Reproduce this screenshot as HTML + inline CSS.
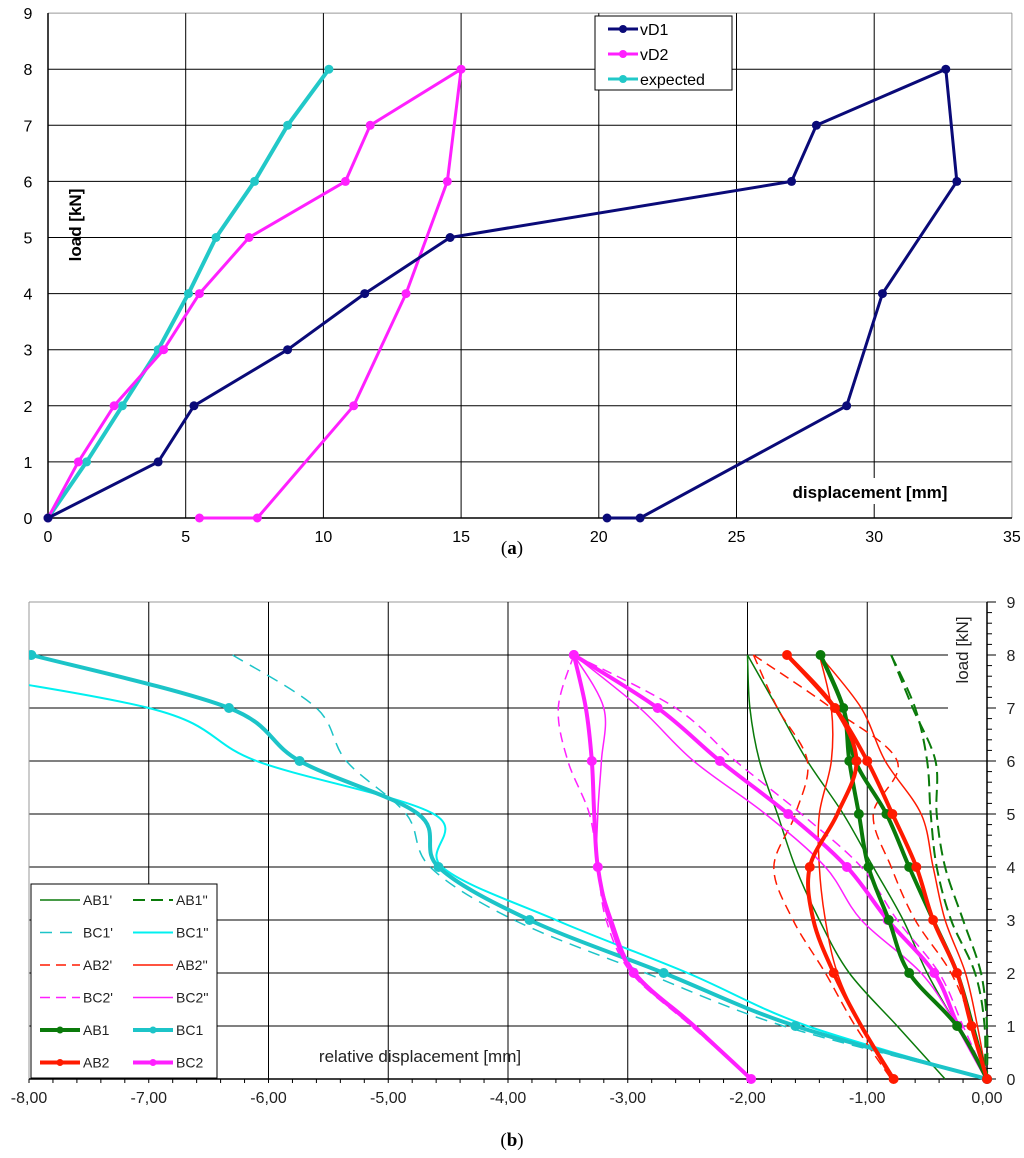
<!DOCTYPE html>
<html><head><meta charset="utf-8"><style>
html,body{margin:0;padding:0;background:#fff;}
svg{display:block;font-family:"Liberation Sans",Arial,sans-serif;}
</style></head><body>
<svg id="s" width="1024" height="1158" viewBox="0 0 1024 1158" xmlns="http://www.w3.org/2000/svg">
<g id="top"></g>
<g id="bot"></g>
<text x="512" y="554" text-anchor="middle" font-family="Liberation Serif" font-size="19">(<tspan font-weight="bold">a</tspan>)</text>
<text x="512" y="1146" text-anchor="middle" font-family="Liberation Serif" font-size="19">(<tspan font-weight="bold">b</tspan>)</text>
</svg>
<script>
// ---- chart a data ----
const aXTicks=[0,5,10,15,20,25,30,35];
const aYTicks=[0,1,2,3,4,5,6,7,8,9];
const vD1X=[0,4,5.3,8.7,11.5,14.6,27,27.9,32.6,33,30.3,29,21.5,20.3];
const vD1Y=[0,1,2,3,4,5,6,7,8,6,4,2,0,0];
const vD2X=[0,1.1,2.4,4.2,5.5,7.3,10.8,11.7,15,14.5,13,11.1,7.6,5.5];
const vD2Y=[0,1,2,3,4,5,6,7,8,6,4,2,0,0];
const expX=[0,1.4,2.7,4,5.1,6.1,7.5,8.7,10.2];
const expY=[0,1,2,3,4,5,6,7,8];
// ---- chart b data ----
const bXTicks=[-8,-7,-6,-5,-4,-3,-2,-1,0];
const bXLabels=["-8,00","-7,00","-6,00","-5,00","-4,00","-3,00","-2,00","-1,00","0,00"];
const bYTicks=[0,1,2,3,4,5,6,7,8,9];
const loads=[8,7,6,5,4,3,2,1,0];
const BC1=[-7.98,-6.33,-5.74,-4.75,-4.58,-3.82,-2.7,-1.6,0];
const BC1b=[-9.6,-7.0,-6.1,-4.62,-4.55,-3.6,-2.5,-1.5,0];
const BC1a=[-6.3,-5.6,-5.35,-4.85,-4.65,-3.95,-2.85,-1.7,0];
const BC2=[-3.45,-2.75,-2.23,-1.66,-1.17,-0.83,-0.44,-0.24,0];
const BC2L=[-3.45,-3.35,-3.3,-3.28,-3.25,-3.15,-2.95,-2.45,-1.97];
const BC2b=[-3.45,-2.9,-2.45,-1.85,-1.35,-1.05,-0.55,-0.25,0];
const BC2a=[-3.45,-2.6,-2.1,-1.55,-1.05,-0.75,-0.4,-0.2,0];
const BC2La=[-3.45,-3.58,-3.5,-3.32,-3.25,-3.18,-2.97,-2.47,-1.97];
const BC2Lb=[-3.45,-3.2,-3.22,-3.25,-3.25,-3.13,-2.93,-2.43,-1.97];
const AB1=[-1.39,-1.2,-1.15,-1.07,-0.99,-0.82,-0.65,-0.25,0];
const AB1R=[-1.39,-1.2,-1.1,-0.84,-0.65,-0.45,-0.25,-0.12,0];
const AB1a=[-2.0,-1.98,-1.9,-1.75,-1.6,-1.4,-1.15,-0.75,-0.35];
const AB1a2=[-2.0,-1.75,-1.5,-1.2,-0.95,-0.7,-0.5,-0.25,0];
const AB1b=[-0.8,-0.6,-0.5,-0.47,-0.42,-0.3,-0.1,-0.02,-0.02];
const AB1b2=[-0.8,-0.62,-0.43,-0.42,-0.35,-0.2,-0.05,0,0];
const AB2=[-1.67,-1.27,-1.0,-0.79,-0.59,-0.45,-0.25,-0.13,0];
const AB2L=[-1.67,-1.27,-1.09,-1.25,-1.48,-1.45,-1.28,-1.05,-0.78];
const AB2a=[-1.95,-1.3,-0.75,-0.95,-0.8,-0.6,-0.3,-0.12,0];
const AB2a2=[-1.95,-1.75,-1.5,-1.6,-1.78,-1.62,-1.35,-1.1,-0.8];
const AB2b=[-1.4,-1.05,-0.85,-0.55,-0.45,-0.35,-0.18,-0.08,0];
const AB2b2=[-1.4,-1.3,-1.3,-1.4,-1.4,-1.35,-1.25,-1.05,-0.8];

const NS="http://www.w3.org/2000/svg";
function mk(p,t,a){const e=document.createElementNS(NS,t);for(const k in a)e.setAttribute(k,a[k]);p.appendChild(e);return e;}
// ---- chart a ----
const A=document.getElementById('top');
const ax=v=>48+v*27.54, ay=v=>518-v*56.1;
aYTicks.forEach(v=>{const l=mk(A,'line',{x1:48,x2:1012,y1:ay(v),y2:ay(v),stroke:v==9?'#999':'#000','stroke-width':1});


const t=mk(A,'text',{x:28,y:ay(v)+6,'text-anchor':'middle','font-size':16});t.textContent=v;

});
aXTicks.forEach(v=>{const l=mk(A,'line',{x1:ax(v),x2:ax(v),y1:ay(9),y2:518,stroke:v==35?'#999':'#000','stroke-width':1});


const t=mk(A,'text',{x:ax(v),y:542,'text-anchor':'middle','font-size':16});t.textContent=v;

});
mk(A,'line',{x1:48,x2:48,y1:ay(9),y2:518,stroke:'#000','stroke-width':1.5});
mk(A,'line',{x1:48,x2:1012,y1:518,y2:518,stroke:'#000','stroke-width':1.5});
function aSeries(X,Y,c,name,w){const g=mk(A,'g',{});


mk(g,'polyline',{points:X.map((x,i)=>ax(x)+','+ay(Y[i])).join(' '),fill:'none',stroke:c,'stroke-width':w,'stroke-linejoin':'round'});
X.forEach((x,i)=>{const d=mk(g,'circle',{cx:ax(x),cy:ay(Y[i]),r:4.5,fill:c});

});}
aSeries(expX,expY,'#22c8c8','series-expected',4);
aSeries(vD2X,vD2Y,'#ff20ff','series-vD2',3);
aSeries(vD1X,vD1Y,'#0a0a78','series-vD1',3);
// legend a
const LA=mk(A,'g',{});


mk(LA,'rect',{x:595,y:16,width:137,height:74,fill:'#fff',stroke:'#000','stroke-width':1});
[['vD1','#0a0a78'],['vD2','#ff20ff'],['expected','#22c8c8']].forEach((e,i)=>{const y=29+i*25;
mk(LA,'line',{x1:608,x2:638,y1:y,y2:y,stroke:e[1],'stroke-width':3});mk(LA,'circle',{cx:623,cy:y,r:4,fill:e[1]});
const t=mk(LA,'text',{x:640,y:y+6,'font-size':16});t.textContent=e[0];

});
let t=mk(A,'text',{x:0,y:0,transform:'translate(81,225) rotate(-90)','text-anchor':'middle','font-size':17,'font-weight':'bold'});t.textContent='load [kN]';


mk(A,'rect',{x:760,y:478,width:222,height:26,fill:'#fff'});
t=mk(A,'text',{x:870,y:498,'text-anchor':'middle','font-size':17,'font-weight':'bold'});t.textContent='displacement [mm]';



// ---- chart b ----
const B=document.getElementById('bot');
const bx=v=>987+v*119.75, by=v=>1079-v*53;
bYTicks.forEach(v=>{const l=mk(B,'line',{x1:29,x2:(v>=7&&v<9)?948:987,y1:by(v),y2:by(v),stroke:v==9?'#999':'#000','stroke-width':1});


const t=mk(B,'text',{x:1011,y:by(v)+6,'text-anchor':'middle','font-size':16,fill:'#222'});t.textContent=v;

});
bXTicks.forEach((v,i)=>{const l=mk(B,'line',{x1:bx(v),x2:bx(v),y1:by(9),y2:1079,stroke:v==-8?'#999':'#000','stroke-width':1});


const t=mk(B,'text',{x:bx(v),y:1103,'text-anchor':'middle','font-size':16,fill:'#222'});t.textContent=bXLabels[i];

});
for(let k=0;k<=40;k++){const x=bx(-8+k*0.2);mk(B,'line',{x1:x,x2:x,y1:1079,y2:1083,stroke:'#000'});}
for(let k=0;k<=45;k++){const y=by(k*0.2);mk(B,'line',{x1:987,x2:k%5?992:996,y1:y,y2:y,stroke:'#000'});}
mk(B,'line',{x1:987,x2:987,y1:by(9),y2:1079,stroke:'#000','stroke-width':1.5});
mk(B,'line',{x1:29,x2:987,y1:1079,y2:1079,stroke:'#000','stroke-width':1.5});
const clip=mk(B,'clipPath',{id:'bc'});mk(clip,'rect',{x:29,y:598,width:970,height:490});
const SG=mk(B,'g',{'clip-path':'url(#bc)'});
function smooth(P){let d='M'+P[0][0]+','+P[0][1];for(let i=0;i<P.length-1;i++){const p0=P[i-1]||P[i],p1=P[i],p2=P[i+1],p3=P[i+2]||P[i+1];
d+=' C'+(p1[0]+(p2[0]-p0[0])/6)+','+(p1[1]+(p2[1]-p0[1])/6)+' '+(p2[0]-(p3[0]-p1[0])/6)+','+(p2[1]-(p3[1]-p1[1])/6)+' '+p2[0]+','+p2[1];}return d;}
function bSeries(X,c,name,w,dash,marks){const g=mk(SG,'g',{});


const P=X.map((x,i)=>[bx(x),by(loads[i])]);
const a={d:smooth(P),fill:'none',stroke:c,'stroke-width':w};if(dash)a['stroke-dasharray']=dash;mk(g,'path',a);
if(marks)P.forEach((p,i)=>{if(marks!==true&&marks.indexOf(i)<0)return;const d=mk(g,'circle',{cx:p[0],cy:p[1],r:5,fill:c});

});}
const G='#0a7a0a',C='#00f0f0',C2='#1cc4c8',R='#ff1a00',M='#ff20ff';
bSeries(AB1a,G,'series-AB1-prime',1.5);bSeries(AB1a2,G,'series-AB1-prime-b',1.5);
bSeries(AB1b,G,'series-AB1-dprime',2,'12,6');bSeries(AB1b2,G,'series-AB1-dprime-b',2,'12,6');
bSeries(BC1a,C2,'series-BC1-prime',1.5,'12,8');bSeries(BC1b,C,'series-BC1-dprime',2);
bSeries(AB2a,R,'series-AB2-prime',1.5,'10,6');bSeries(AB2a2,R,'series-AB2-prime-b',1.5,'10,6');
bSeries(AB2b,R,'series-AB2-dprime',1.5);bSeries(AB2b2,R,'series-AB2-dprime-b',1.5);
bSeries(BC2a,M,'series-BC2-prime',1.5,'10,6');bSeries(BC2La,M,'series-BC2-prime-b',1.5,'10,6');
bSeries(BC2b,M,'series-BC2-dprime',1.5);bSeries(BC2Lb,M,'series-BC2-dprime-b',1.5);
bSeries(BC1,C2,'series-BC1',4,null,[0,1,2,4,5,6,7,8]);
bSeries(BC2,M,'series-BC2',4,null,true);bSeries(BC2L,M,'series-BC2-b',4,null,[0,2,4,6,8]);
bSeries(AB1,G,'series-AB1',4,null,true);bSeries(AB1R,G,'series-AB1-b',4,null,[3,4]);
bSeries(AB2,R,'series-AB2',4,null,true);bSeries(AB2L,R,'series-AB2-b',4,null,[2,4,6,8]);
// legend b
const LB=mk(B,'g',{});


mk(LB,'rect',{x:31,y:884,width:186,height:194,fill:'#fff',stroke:'#000','stroke-width':1});
const ents=[['AB1\'',G,1.5,null,0],['AB1\'\'',G,2,'12,6',0],['BC1\'',C2,1.5,'12,8',0],['BC1\'\'',C,2,null,0],['AB2\'',R,1.5,'10,6',0],['AB2\'\'',R,1.5,null,0],['BC2\'',M,1.5,'10,6',0],['BC2\'\'',M,1.5,null,0],['AB1',G,4,null,1],['BC1',C2,4,null,1],['AB2',R,4,null,1],['BC2',M,4,null,1]];
ents.forEach((e,i)=>{const x=40+(i%2)*93,y=900+Math.floor(i/2)*32.5;
mk(LB,'line',{x1:x,x2:x+40,y1:y,y2:y,stroke:e[1],'stroke-width':e[2],'stroke-dasharray':e[3]||'none'});
if(e[4])mk(LB,'circle',{cx:x+20,cy:y,r:3.5,fill:e[1]});
const t=mk(LB,'text',{x:x+43,y:y+5,'font-size':14,fill:'#222'});t.textContent=e[0];

});
t=mk(B,'text',{x:0,y:0,transform:'translate(968,650) rotate(-90)','text-anchor':'middle','font-size':17,fill:'#222'});t.textContent='load [kN]';


t=mk(B,'text',{x:420,y:1062,'text-anchor':'middle','font-size':17,fill:'#222'});t.textContent='relative displacement [mm]';


</script>
</body></html>
